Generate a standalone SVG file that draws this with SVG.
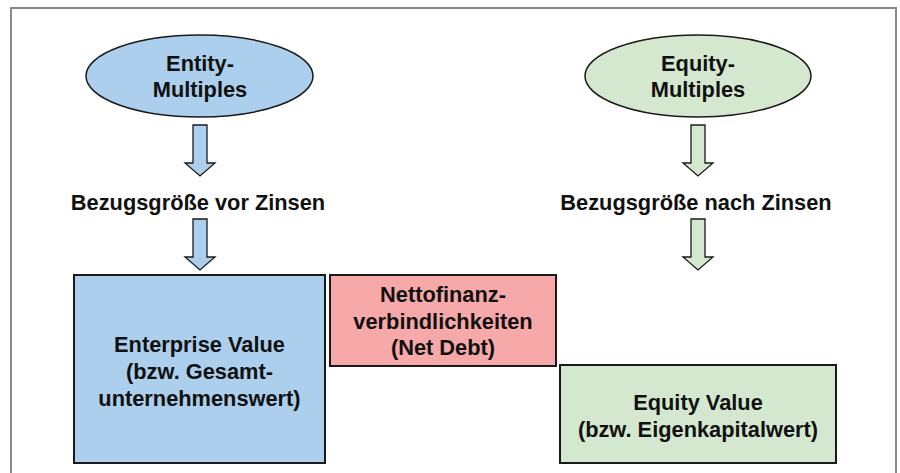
<svg xmlns="http://www.w3.org/2000/svg" width="900" height="473" viewBox="0 0 900 473">
<style>
  text { font-family: "Liberation Sans", Arial, sans-serif; font-weight: bold; font-size: 21.8px; fill: #111; text-anchor: middle; }
  .blue { fill: #abcfec; }
  .green { fill: #d4e8cf; }
  .pink { fill: #f7a8a8; }
  .node { stroke: #1a1a1a; stroke-width: 2; }
  .arrow { stroke: #1a1a1a; stroke-width: 1.3; stroke-linejoin: miter; }
  .frame { fill: none; stroke: #8a8a8a; stroke-width: 2; }
</style>
<rect x="0" y="0" width="900" height="473" fill="#ffffff"/>
<path class="frame" d="M11,473 V8 H896 V473"/>

<g id="connectors">
  <path class="arrow blue" d="M193,125 H207 V163 H215 L200,176 L185,163 H193 Z"/>
  <path class="arrow blue" d="M193,219 H207 V257 H215 L200,270 L185,257 H193 Z"/>
  <path class="arrow green" d="M691,125 H705 V163 H713 L698,176 L683,163 H691 Z"/>
  <path class="arrow green" d="M691,219 H705 V257 H713 L698,270 L683,257 H691 Z"/>
</g>

<g id="entity-multiples">
  <ellipse class="node blue" cx="199.5" cy="76" rx="113.5" ry="41" style="stroke-width:1.5"/>
  <text x="200" y="71">Entity-</text>
  <text x="200" y="97">Multiples</text>
</g>

<g id="equity-multiples">
  <ellipse class="node green" cx="698" cy="76" rx="113" ry="41" style="stroke-width:1.5"/>
  <text x="698" y="71">Equity-</text>
  <text x="698" y="97">Multiples</text>
</g>

<g id="label-vor">
  <text x="198" y="210">Bezugsgröße vor Zinsen</text>
</g>

<g id="label-nach">
  <text x="696" y="210">Bezugsgröße nach Zinsen</text>
</g>

<g id="enterprise-value">
  <rect class="node blue" x="74" y="275" width="251" height="188"/>
  <text x="199.5" y="352">Enterprise Value</text>
  <text x="199.5" y="379">(bzw. Gesamt-</text>
  <text x="199.5" y="406">unternehmenswert)</text>
</g>

<g id="net-debt">
  <rect class="node pink" x="330" y="275" width="226" height="91"/>
  <text x="443" y="302">Nettofinanz-</text>
  <text x="443" y="329">verbindlichkeiten</text>
  <text x="443" y="355">(Net Debt)</text>
</g>

<g id="equity-value">
  <rect class="node green" x="560" y="365" width="276" height="98"/>
  <text x="698" y="410">Equity Value</text>
  <text x="698" y="437">(bzw. Eigenkapitalwert)</text>
</g>
</svg>
